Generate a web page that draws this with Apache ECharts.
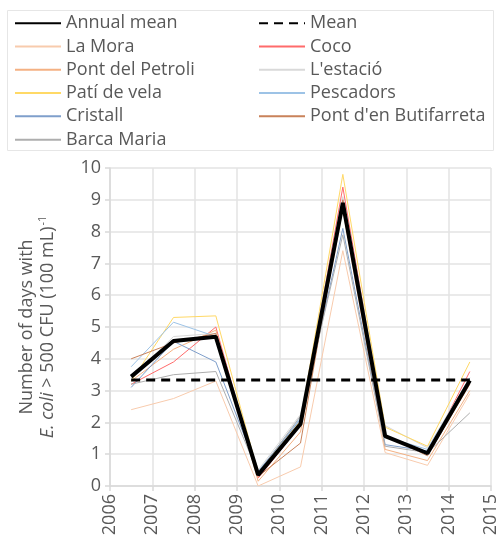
<!DOCTYPE html>
<html>
<head>
<meta charset="utf-8">
<script src="https://cdn.jsdelivr.net/npm/echarts@6/dist/echarts.min.js"></script>
<style>
  html, body { margin: 0; padding: 0; background: #fff; }
  #chart { width: 502px; height: 544px; }
</style>
</head>
<body>
<div id="chart"></div>
<script>
// sampling points sit in the middle of each year
const years = [2006.5, 2007.5, 2008.5, 2009.5, 2010.5, 2011.5, 2012.5, 2013.5, 2014.5];

const laMora = [2.4, 2.75, 3.3, 0.0, 0.6, 7.4, 1.05, 0.65, 2.9];
const coco = [3.2, 3.9, 5.0, 0.25, 1.9, 9.4, 1.6, 1.0, 3.6];
const pontPetroli = [3.3, 4.3, 4.9, 0.15, 1.7, 8.7, 1.15, 0.8, 3.0];
const estacio = [3.4, 4.7, 4.8, 0.5, 2.25, 9.1, 1.9, 1.2, 3.4];
const patiVela = [3.3, 5.3, 5.35, 0.4, 2.05, 9.8, 1.85, 1.25, 3.9];
const pescadors = [3.75, 5.15, 4.7, 0.45, 2.15, 9.0, 1.55, 1.15, 3.4];
const cristall = [3.1, 4.55, 3.9, 0.45, 2.1, 8.1, 1.3, 1.1, 3.3];
const butifarreta = [4.0, 4.5, 4.8, 0.3, 1.35, 9.0, 1.6, 0.95, 3.2];
const barcaMaria = [3.2, 3.5, 3.6, 0.4, 2.2, 7.9, 1.25, 1.05, 2.3];
const annualMean = [3.44, 4.56, 4.69, 0.35, 1.95, 8.9, 1.57, 1.03, 3.32];
const overallMean = 3.33;

const stations = [
  { name: 'La Mora', data: laMora, color: '#F8CBAD' },
  { name: 'Coco', data: coco, color: '#FF6B6B' },
  { name: 'Pont del Petroli', data: pontPetroli, color: '#F4B183' },
  { name: "L'estació", data: estacio, color: '#D9D9D9' },
  { name: 'Patí de vela', data: patiVela, color: '#FFD966' },
  { name: 'Pescadors', data: pescadors, color: '#9DC3E6' },
  { name: 'Cristall', data: cristall, color: '#7F9FCB' },
  { name: "Pont d'en Butifarreta", data: butifarreta, color: '#C9825A' },
  { name: 'Barca Maria', data: barcaMaria, color: '#AEAEAE' },
];

const pairs = (vals) => years.map((x, i) => [x, vals[i]]);

const font = '"Open Sans", "Noto Sans", sans-serif';
const textColor = '#595959';

const series = stations.map((s) => ({
  name: s.name,
  type: 'line',
  symbol: 'none',
  silent: true,
  lineStyle: { width: 1, color: s.color },
  itemStyle: { color: s.color },
  data: pairs(s.data),
}));

series.push({
  name: 'Mean',
  type: 'line',
  symbol: 'none',
  z: 4,
  lineStyle: { width: 3, color: '#000', type: [9, 6] },
  itemStyle: { color: '#000' },
  data: [[years[0], overallMean], [years[years.length - 1], overallMean]],
});
series.push({
  name: 'Annual mean',
  type: 'line',
  symbol: 'none',
  z: 5,
  lineStyle: { width: 4, color: '#000' },
  itemStyle: { color: '#000' },
  data: pairs(annualMean),
});

function makeLegend(left, names) {
  return {
    orient: 'vertical',
    left,
    top: 11.5,
    padding: 0,
    itemWidth: 46,
    itemHeight: 14,
    itemGap: 0,
    itemStyle: { opacity: 0 },
    textStyle: { fontFamily: font, fontSize: 18, color: textColor, lineHeight: 23.3 },
    data: names,
  };
}

const option = {
  backgroundColor: '#fff',
  animation: false,
  graphic: [{
    type: 'rect',
    shape: { x: 7.5, y: 10.5, width: 486, height: 140 },
    style: { fill: 'none', stroke: '#E6E6E6', lineWidth: 1 },
  }],
  legend: [
    makeLegend(14, ['Annual mean', 'La Mora', 'Pont del Petroli', 'Patí de vela', 'Cristall', 'Barca Maria']),
    makeLegend(258, ['Mean', 'Coco', "L'estació", 'Pescadors', "Pont d'en Butifarreta"]),
  ],
  grid: { left: 110, right: 11, top: 168, bottom: 58 },
  xAxis: {
    type: 'value',
    min: 2006,
    max: 2015,
    interval: 1,
    axisLine: { show: true, lineStyle: { color: '#D9D9D9', width: 1.5 } },
    axisTick: { show: true, length: 5, lineStyle: { color: '#D9D9D9', width: 1.5 } },
    splitLine: { show: true, lineStyle: { color: '#E3E3E3', width: 1.5 } },
    axisLabel: {
      rotate: 90,
      margin: 8,
      fontFamily: font,
      fontSize: 18,
      color: textColor,
      formatter: (v) => String(v),
    },
  },
  yAxis: {
    type: 'value',
    min: 0,
    max: 10,
    interval: 1,
    axisLine: { show: true, lineStyle: { color: '#D9D9D9', width: 1.5 } },
    axisTick: { show: true, length: 5, lineStyle: { color: '#D9D9D9', width: 1.5 } },
    splitLine: { show: true, lineStyle: { color: '#E3E3E3', width: 1.5 } },
    axisLabel: { margin: 9, fontFamily: font, fontSize: 18, color: textColor },
    name: 'Number of days with\n{i|E. coli} > 500 CFU (100 mL){sup|-1}',
    nameLocation: 'middle',
    nameGap: 52,
    nameTextStyle: {
      fontFamily: font,
      fontSize: 18,
      color: textColor,
      lineHeight: 21,
      rich: {
        i: { fontFamily: font, fontSize: 18, fontStyle: 'italic', color: textColor, lineHeight: 21 },
        sup: { fontFamily: font, fontSize: 11, color: textColor, padding: [0, 0, 9, 1] },
      },
    },
  },
  series,
};

const chart = echarts.init(document.getElementById('chart'), null, { renderer: 'canvas' });
chart.setOption(option);
</script>
</body>
</html>
